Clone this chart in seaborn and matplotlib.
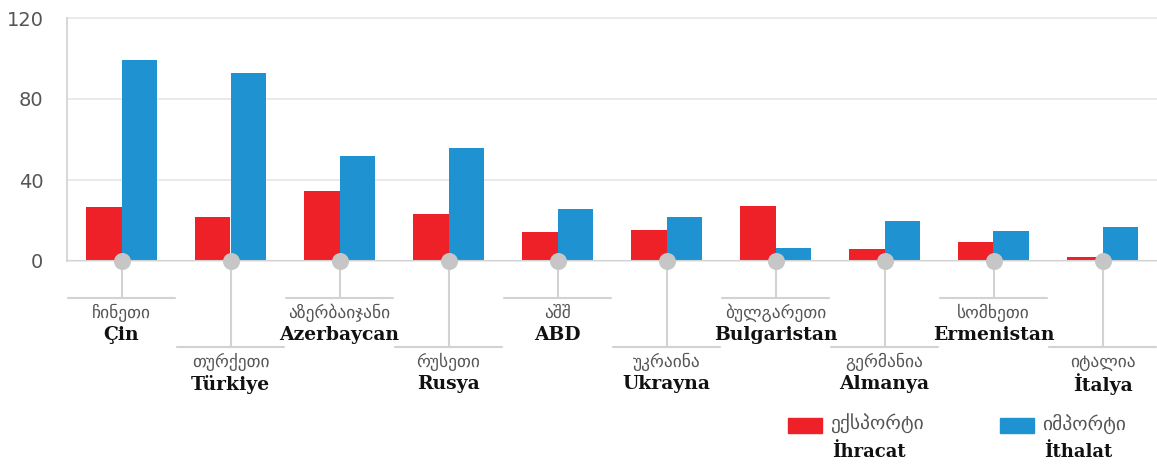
import matplotlib
matplotlib.use("Agg")
import matplotlib.pyplot as plt
import seaborn as sns
import pandas as pd
from matplotlib.patches import Rectangle

# data
countries_ka = ["ჩინეთი", "თურქეთი", "აზერბაიჯანი", "რუსეთი", "აშშ",
                "უკრაინა", "ბულგარეთი", "გერმანია", "სომხეთი", "იტალია"]
countries_tr = ["Çin", "Türkiye", "Azerbaycan", "Rusya", "ABD",
                "Ukrayna", "Bulgaristan", "Almanya", "Ermenistan", "İtalya"]
export_vals = [26.7, 21.7, 34.6, 23.2, 14.3, 15.3, 27.2, 5.9, 9.4, 2.0]
import_vals = [99.3, 92.8, 51.9, 55.8, 25.7, 21.7, 6.4, 19.8, 14.8, 16.8]
series_ka = ["ექსპორტი", "იმპორტი"]
series_tr = ["İhracat", "İthalat"]
yticks = [0, 40, 80, 120]

RED = "#ee2128"
BLUE = "#1f93d2"
GREY = "#d2d2d2"
TEXT = "#555555"

df = pd.DataFrame({
    "country": countries_tr * 2,
    "value": export_vals + import_vals,
    "kind": [series_tr[0]] * len(countries_tr) + [series_tr[1]] * len(countries_tr),
})

sns.set_theme(style="white")
plt.rcParams["font.family"] = ["DejaVu Sans"]

W, H = 1157, 466
fig = plt.figure(figsize=(W / 100, H / 100), dpi=100)
ax = fig.add_axes([67 / W, (H - 261) / H, (W - 67) / W, 243 / H])

sns.barplot(data=df, x="country", y="value", hue="kind", palette=[RED, BLUE],
            width=0.66, gap=0, saturation=1, legend=False, linewidth=0, ax=ax)

ax.set_xlim(-0.5, 9.5)
ax.set_ylim(0, 120)
ax.set_yticks(yticks)
ax.set_yticklabels([str(t) for t in yticks])
ax.set_xticks([])
ax.set_xlabel("")
ax.set_ylabel("")
for t in yticks:
    ax.axhline(t, color="#e6e6e6", lw=1.2, zorder=0, clip_on=False)
ax.axhline(0, color=GREY, lw=1.5, zorder=1)
for s in ["top", "right", "bottom"]:
    ax.spines[s].set_visible(False)
ax.spines["left"].set_color("#d4d4d4")
ax.spines["left"].set_linewidth(1.3)
ax.tick_params(axis="y", length=9, color="#d8d8d8", width=1.2, pad=8,
               labelsize=14, labelcolor=TEXT)

# label connectors under the axis
trans = ax.get_xaxis_transform()
px = 1 / 243  # one pixel in axes fraction
for i in range(len(countries_tr)):
    low = i % 2 == 1
    yline = -(86 if low else 37) * px
    ax.plot([i, i], [0, yline], color=GREY, lw=1.5, transform=trans,
            clip_on=False, zorder=2)
    ax.plot([i - 0.49, i + 0.49], [yline, yline], color=GREY, lw=1.5,
            transform=trans, clip_on=False, zorder=2)
    ax.scatter([i], [0], s=150, color="#c6c6c6", transform=trans,
               clip_on=False, zorder=5, linewidths=0)
    ax.text(i, yline - 15 * px, countries_ka[i], transform=trans,
            ha="center", va="center", fontsize=12.5, color=TEXT)
    ax.text(i, yline - 37 * px, countries_tr[i], transform=trans,
            ha="center", va="center", fontsize=13.5, color="#111111",
            family="DejaVu Serif", fontweight="bold")

# legend at the bottom right
for x0, col, ka, tr in [(788, RED, series_ka[0], series_tr[0]),
                        (1000, BLUE, series_ka[1], series_tr[1])]:
    fig.patches.append(Rectangle((x0 / W, (H - 433) / H), 34 / W, 15 / H,
                                 transform=fig.transFigure, color=col))
    fig.text((x0 + 42) / W, (H - 424) / H, ka, ha="left", va="center",
             fontsize=14, color=TEXT)
    fig.text((x0 + 44) / W, (H - 452) / H, tr, ha="left", va="center",
             fontsize=13, color="#111111", family="DejaVu Serif",
             fontweight="bold")

fig.savefig("out.png", dpi=100)
